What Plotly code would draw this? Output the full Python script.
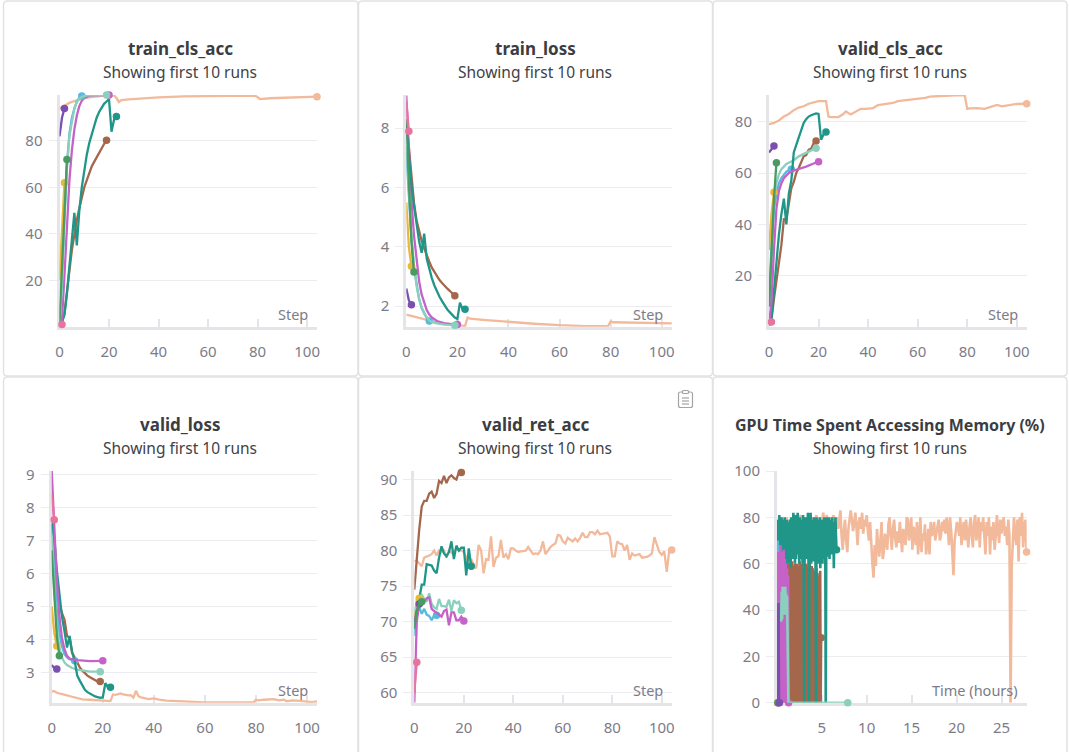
import plotly.graph_objects as go

W, H = 1069, 752
FONT = "Noto Sans"

# ---- colours of the runs
PEACH, PURPLE, GREEN, YELLOW = "#f2b99b", "#7b4fb0", "#4a9b62", "#e8b83c"
TEAL, BROWN, PINK, MAGENTA = "#1f9688", "#a5674c", "#e8749e", "#c562c8"
LTTEAL, CYAN = "#8ad0bd", "#56b9dd"

STEPS_2 = [0, 1]
STEPS_3 = [0, 1, 2]
STEPS_4 = [0, 1, 2, 3]
STEPS_10 = list(range(10))
STEPS_20 = list(range(20))
STEPS_21 = list(range(21))
STEPS_24 = list(range(24))
STEPS_105 = list(range(105))

# ---- train_cls_acc
tca_peach_x = [0, 2, 4, 6, 8, 10, 12, 15, 18, 22, 23, 24, 25, 28, 32, 40, 50, 60, 70, 79, 80, 81, 85, 95, 104]
tca_peach_y = [94, 95.3, 96.4, 97.2, 97.9, 98.4, 98.8, 99.2, 99.5, 99.7, 98.5, 96.8, 97.6, 97.9, 98.2, 98.8, 99.2, 99.4, 99.5, 99.5, 98.9, 98, 98.4, 98.8, 99.1]
tca_purple = [82, 90, 94]
tca_yellow = [20, 42, 62]
tca_green = [2, 25, 50, 72]
tca_pink = [0.5, 1]
tca_cyan = [1, 20, 48, 70, 83, 90, 94, 97, 98.7, 99.4]
tca_ltteal_x = [0, 1, 2, 3, 4, 5, 6, 7, 8, 9, 10, 12, 15, 19]
tca_ltteal_y = [1, 18, 46, 68, 82, 89, 94, 96.8, 98.3, 99, 99.4, 99.7, 99.8, 99.8]
tca_magenta_x = [0, 1, 2, 3, 4, 5, 6, 7, 8, 9, 10, 12, 15, 20]
tca_magenta_y = [0.3, 3, 22, 45, 63, 76, 85, 91, 95, 97.3, 98.5, 99.4, 99.7, 99.8]
tca_teal = [1, 2, 5, 14, 26, 38, 49, 35, 50, 60, 68, 74, 79, 83, 87, 90, 92.5, 94.5, 96, 97, 98, 84, 89, 90.5]
tca_brown = [0.5, 2, 6, 14, 24, 33, 40, 46, 51, 56, 60, 63, 66, 69, 71, 73, 75, 77, 78.7, 80.3]

# ---- train_loss
tl_peach_x = [0, 5, 10, 15, 20, 23, 24, 25, 30, 40, 50, 60, 70, 79, 80, 81, 90, 104]
tl_peach_y = [1.72, 1.6, 1.5, 1.42, 1.35, 1.33, 1.62, 1.58, 1.54, 1.47, 1.41, 1.36, 1.33, 1.33, 1.49, 1.46, 1.44, 1.42]
tl_purple = [2.6, 2.2, 2.05]
tl_yellow = [5.5, 4, 3.35]
tl_green = [8.2, 6, 4.2, 3.15]
tl_pink = [8.9, 7.9]
tl_cyan = [7.2, 5.6, 4.3, 3.3, 2.7, 2.25, 1.95, 1.75, 1.6, 1.5]
tl_ltteal_x = [0, 1, 2, 3, 4, 5, 6, 7, 8, 9, 10, 12, 15, 19]
tl_ltteal_y = [7.4, 5.8, 4.4, 3.4, 2.7, 2.25, 1.95, 1.75, 1.62, 1.52, 1.47, 1.42, 1.38, 1.36]
tl_magenta_x = [0, 1, 2, 3, 4, 5, 6, 7, 8, 9, 10, 12, 15, 20]
tl_magenta_y = [9.1, 7.2, 5.6, 4.4, 3.5, 2.85, 2.4, 2.1, 1.87, 1.72, 1.62, 1.5, 1.42, 1.38]
tl_teal = [8.1, 7.1, 6.1, 5.4, 4.7, 4.2, 3.8, 4.45, 3.6, 3.25, 2.95, 2.7, 2.5, 2.32, 2.17, 2.03, 1.9, 1.8, 1.7, 1.62, 1.57, 2.12, 1.9, 1.9]
tl_brown = [8.3, 7.3, 6.3, 5.5, 4.9, 4.5, 4.2, 3.95, 3.7, 3.5, 3.3, 3.15, 3.0, 2.88, 2.78, 2.68, 2.6, 2.52, 2.43, 2.35]

# ---- valid_cls_acc
vca_peach_x = [0, 2, 4, 6, 8, 10, 12, 14, 16, 18, 20, 23, 24, 25, 28, 30, 31, 33, 35, 37, 39, 42, 44, 46, 50, 52, 55, 60, 63, 65, 70, 75, 79, 80, 81, 84, 87, 90, 91, 92, 94, 97, 100, 104]
vca_peach_y = [79, 79.5, 80.5, 82, 83, 84.5, 85.5, 86, 87, 87.5, 88, 88, 82, 81.8, 81.8, 83, 84, 82.8, 84, 85, 85, 85.3, 86.5, 86.8, 87.3, 88, 88.3, 89, 89.3, 89.8, 90.1, 90.3, 90.3, 85, 85.2, 85.3, 85, 85.8, 86, 86.5, 86, 86.5, 86.9, 87]
vca_purple = [68, 69.5, 70.5]
vca_yellow = [30, 44, 52.5]
vca_green = [8, 30, 50, 64]
vca_pink = [0.5, 2]
vca_cyan = [8, 30, 46, 52, 56, 58, 59.5, 60.5, 61, 61.5]
vca_ltteal_x = [0, 1, 2, 3, 4, 5, 6, 7, 8, 9, 10, 12, 14, 16, 19]
vca_ltteal_y = [8, 33, 50, 56, 59.5, 61.5, 62.5, 63.5, 64, 64.5, 65, 66.5, 67.5, 68.5, 69.7]
vca_magenta_x = [0, 1, 2, 3, 4, 5, 6, 7, 8, 10, 12, 15, 18, 20]
vca_magenta_y = [1, 10, 30, 46, 53, 56, 58, 59, 60, 61, 61.5, 62.5, 63.7, 64.4]
vca_teal = [1, 3, 14, 26, 36, 44, 50, 40, 52, 57, 68, 71, 74, 77, 79.5, 81, 82, 82.5, 83, 83.2, 83, 73, 75, 76]
vca_brown = [0.5, 3, 11, 18, 27, 32, 42, 42, 48, 54, 56.5, 60, 62, 64.5, 66.5, 67, 69, 69.5, 71.5, 72.5]

# ---- valid_loss
vl_peach_x = [0, 1, 2, 4, 6, 8, 10, 12, 15, 18, 21, 23, 24, 25, 26, 27, 28, 30, 31, 32, 33, 34, 35, 37, 38, 40, 42, 45, 48, 50, 55, 60, 65, 70, 75, 79, 80, 81, 83, 85, 87, 89, 91, 92, 94, 96, 98, 100, 102, 104]
vl_peach_y = [2.42, 2.43, 2.38, 2.35, 2.3, 2.26, 2.22, 2.18, 2.17, 2.15, 2.13, 2.13, 2.33, 2.32, 2.34, 2.36, 2.33, 2.3, 2.31, 2.23, 2.44, 2.27, 2.24, 2.22, 2.19, 2.21, 2.17, 2.14, 2.13, 2.11, 2.1, 2.09, 2.09, 2.09, 2.09, 2.09, 2.17, 2.15, 2.17, 2.18, 2.19, 2.15, 2.17, 2.12, 2.15, 2.14, 2.12, 2.12, 2.1, 2.12]
vl_purple = [3.22, 3.13, 3.1]
vl_yellow = [5, 4.2, 3.8]
vl_green = [6.7, 5.2, 4.1, 3.5]
vl_pink = [8.4, 7.62]
vl_cyan = [7.5, 6, 4.9, 4.2, 3.8, 3.55, 3.45, 3.4, 3.37, 3.35]
vl_ltteal_x = [0, 1, 2, 3, 4, 5, 6, 7, 8, 10, 12, 15, 19]
vl_ltteal_y = [7.2, 5.5, 4.4, 3.75, 3.45, 3.3, 3.22, 3.17, 3.13, 3.08, 3.05, 3.02, 3.02]
vl_magenta_x = [0, 1, 2, 3, 4, 5, 6, 7, 8, 10, 12, 15, 20]
vl_magenta_y = [9.1, 7.3, 5.8, 4.7, 4.05, 3.7, 3.5, 3.42, 3.39, 3.37, 3.35, 3.34, 3.35]
vl_teal = [7.7, 7.1, 6.1, 5.3, 4.7, 4.25, 3.75, 4.1, 3.6, 3.35, 2.9, 2.75, 2.6, 2.47, 2.4, 2.35, 2.3, 2.27, 2.25, 2.23, 2.24, 2.67, 2.55, 2.55]
vl_brown = [7.5, 6.6, 5.8, 5.1, 4.8, 4.6, 4.1, 4.05, 3.6, 3.45, 3.3, 3.15, 3.05, 2.97, 2.9, 2.85, 2.8, 2.76, 2.72, 2.72]

# ---- valid_ret_acc
vra_peach = [78.5, 78.6, 78.2, 77.8, 79, 79.1, 79.3, 79.5, 80, 79.3, 80, 79.8, 80, 79, 80, 79.7, 79.5, 80.5, 80, 80, 79.8, 79, 78.2, 78.8, 78, 77.5, 80.8, 80, 76.8, 78.8, 78.7, 82, 77.7, 79, 79.2, 81.5, 79, 79.5, 78.8, 80.3, 80.3, 80, 79.8, 79.9, 80, 80, 80.5, 79.9, 79.5, 79.6, 79.5, 80, 81.3, 79.5, 80, 80.5, 80.8, 81, 82.2, 82.1, 81.3, 81, 81.8, 81.5, 81.3, 81.7, 81.3, 81.8, 82.5, 81.9, 81.9, 82.6, 82.6, 82.3, 82.8, 82.3, 82.4, 82.4, 82.5, 82, 79.2, 79.2, 81.3, 81, 80.9, 80, 80.8, 78.7, 79.6, 79.3, 79.4, 79.5, 79, 79, 79.1, 79.3, 79.6, 81.9, 80.7, 79.8, 79.4, 79.9, 77, 80, 80.1]
vra_purple = [70, 71.5, 72.5]
vra_yellow = [70.5, 72, 73.3]
vra_green = [69, 71.5, 72.5, 72.8]
vra_pink = [60, 64.3]
vra_cyan = [68, 71, 72, 71.1, 71.8, 71, 70.8, 70.2, 70.9, 70.9]
vra_ltteal = [71, 73, 73.2, 73.8, 73.2, 72.8, 74, 72.5, 72, 71.8, 73.2, 72.2, 72.2, 72.1, 73.1, 71.5, 73, 72.6, 72.8, 71.6]
vra_magenta = [58.6, 70, 72.5, 73, 72.8, 73.3, 73.4, 71.8, 71.5, 71.3, 71, 70.7, 71.5, 71.7, 69.5, 71.3, 71.3, 70.2, 70.2, 70.7, 70.1]
vra_teal = [69, 72, 73.2, 75.2, 75.2, 78.1, 78, 77.9, 77.2, 76.8, 79, 80.6, 79.6, 79.2, 79.8, 81.3, 78.8, 80.7, 80, 80.4, 80.4, 76.5, 80.3, 77.8]
vra_brown = [74.5, 79, 83, 86.2, 87, 87, 88, 88.3, 87.4, 88, 89.8, 89.5, 90.5, 89.5, 90.3, 90.6, 90.2, 90, 91, 91]

# ---- GPU Time Spent Accessing Memory (%)
gpu_peach_start, gpu_peach_dt = 0.1, 0.127
gpu_peach = [
    76, 79, 74, 78, 80, 75, 79, 77, 80, 74, 78, 79, 75, 80, 73, 78, 80, 76, 79, 74, 81, 77, 79, 75, 80, 78, 74, 81, 76, 79,
    77, 80, 75, 79, 81, 74, 78, 80, 76, 79, 82, 75, 77, 81, 78, 74, 80, 76, 79, 81, 73, 78, 80, 75, 79, 83, 72, 66,
    74, 79, 70, 65, 75, 80, 83, 79, 74, 77, 82, 76, 68, 78, 80, 75, 82, 73, 79, 76, 81, 74, 70, 78, 66, 60, 54, 68,
    59, 75, 68, 63, 70, 78, 62, 65, 73, 70, 66, 77, 80, 72, 66, 75, 79, 71, 67, 74, 69, 78, 72, 65, 75, 72, 68, 80,
    79, 70, 74, 80, 66, 76, 73, 68, 78, 64, 72, 80, 65, 73, 70, 77, 64, 68, 75, 64, 78, 72, 74, 78, 70, 73, 76, 79,
    70, 72, 78, 74, 79, 73, 80, 76, 68, 80, 74, 66, 55, 70, 75, 78, 76, 72, 80, 68, 74, 78, 70, 79, 73, 67, 76, 80,
    72, 67, 78, 81, 70, 75, 80, 67, 78, 74, 80, 72, 64, 78, 72, 80, 64, 76, 70, 78, 66, 72, 81, 75, 69, 79, 73, 77,
    80, 72, 76, 68, 79, 72, 0, 59, 74, 80, 72, 68, 79, 61, 80, 72, 82, 67, 76, 79, 65,
]
gpu_teal_start, gpu_teal_dt = 0.05, 0.06
gpu_teal = [
    77, 62, 79, 72, 81, 64, 78, 70, 80, 62, 79, 60, 76, 66, 80, 63, 75, 55, 79, 65, 78, 60, 74, 62, 79, 58, 80, 66, 77, 62,
    82, 68, 76, 60, 81, 62, 78, 66, 82, 64, 75, 60, 80, 67, 79, 62, 77, 60, 81, 66, 0, 78, 63, 80, 62, 79, 66, 82, 62, 0,
    80, 64, 82, 60, 79, 66, 77, 61, 80, 68, 78, 62, 0, 80, 63, 78, 60, 79, 66, 80, 58, 76, 64, 79, 60, 78, 68, 80, 62, 78,
    0, 70, 80, 63, 78, 66, 80, 62, 77, 68, 79, 64, 80, 70, 78, 58, 76, 68, 80, 72, 66,
]
gpu_brown_start, gpu_brown_dt = 0.1, 0.052
gpu_brown = [
    0, 55, 0, 58, 0, 57, 0, 60, 0, 56, 0, 59, 0, 57, 0, 60, 0, 58, 0, 55, 0, 59, 0, 60, 0, 56, 0, 60, 0, 58, 0, 61, 0, 57, 0, 59, 0, 60, 0,
    56, 0, 60, 0, 58, 0, 59, 0, 61, 0, 57, 0, 60, 0, 58, 0, 61, 0, 55, 0, 59, 0, 60, 0, 57, 0, 59, 0, 58, 0, 60, 0, 56, 0, 59, 0, 58, 0, 55,
    0, 57, 0, 54, 0, 58, 0, 56, 0, 52, 0, 55, 0, 57, 0, 28,
]
gpu_magenta_start, gpu_magenta_dt = 0.12, 0.06
gpu_magenta = [0, 65, 0, 64, 0, 68, 0, 65, 0, 64, 0, 66, 0, 62, 0, 60, 0, 58, 0, 55, 0]
gpu_ltteal_x = [0.5, 0.55, 0.6, 0.65, 0.7, 0.75, 0.8, 0.85, 0.9, 0.95, 1.0, 1.05, 1.1, 1.15, 1.3, 7.9]
gpu_ltteal_y = [35, 48, 36, 50, 40, 50, 42, 49, 38, 50, 42, 47, 40, 46, 0, 0]
gpu_purple_x = [0.05, 0.1, 0.15, 0.2, 0.25, 0.3]
gpu_purple_y = [0, 43, 0, 43, 0, 0]
gpu_pink_x = [0.08, 0.12, 0.16]
gpu_pink_y = [60, 0, 0]
gpu_yellow_x = [0.1, 0.12]
gpu_yellow_y = [64, 0]
gpu_cyan_x = [0.1, 0.2, 0.3, 0.4, 0.5]
gpu_cyan_y = [70, 0, 68, 0, 5]
gpu_green_x = [0.08, 0.12]
gpu_green_y = [60, 0]

x_ticks_step = [0, 20, 40, 60, 80, 100]
x_ticks_time = [5, 10, 15, 20, 25]

titles = ["train_cls_acc", "train_loss", "valid_cls_acc", "valid_loss", "valid_ret_acc",
          "GPU Time Spent Accessing Memory (%)"]
title_sizes = [17, 17, 17, 17, 17, 16]
subtitle = "Showing first 10 runs"
x_names = ["Step", "Step", "Step", "Step", "Step", "Time (hours)"]


def px(x):
    return x / W


def py(y):
    return 1 - y / H


def grid(start, dt, values):
    return [round(start + i * dt, 3) for i in range(len(values))]


PANELS = [
    dict(l=59.5, r=317, t=95, b=326.7, xr=[0, 104], yr=[0, 99.8], yt=[20, 40, 60, 80], xt=x_ticks_step, cx=180.3, oy=0, nx=293.3, lw=2.3),
    dict(l=406.3, r=671.7, t=95, b=326.7, xr=[0, 103.9], yr=[1.31, 9.12], yt=[2, 4, 6, 8], xt=x_ticks_step, cx=535, oy=0, nx=648, lw=2.3),
    dict(l=769, r=1026.7, t=95, b=326.7, xr=[0, 104], yr=[0.13, 90.4], yt=[20, 40, 60, 80], xt=x_ticks_step, cx=890, oy=0, nx=1003, lw=2.3),
    dict(l=51.7, r=317, t=471, b=702.7, xr=[0, 103.9], yr=[2.08, 9.1], yt=[3, 4, 5, 6, 7, 8, 9], xt=x_ticks_step, cx=180.3, oy=376, nx=293.3, lw=2.3),
    dict(l=414.3, r=671.7, t=471, b=702.7, xr=[0, 104], yr=[58.6, 91.2], yt=[60, 65, 70, 75, 80, 85, 90], xt=x_ticks_step, cx=535, oy=376, nx=648, lw=2.3),
    dict(l=777, r=1026.7, t=471, b=702.7, xr=[0.03, 27.8], yr=[0, 100], yt=[0, 20, 40, 60, 80, 100], xt=x_ticks_time, cx=890, oy=376, nx=975, lw=2.6),
]

SERIES = [
    [(tca_peach_x, tca_peach_y, PEACH), (STEPS_20, tca_brown, BROWN), (STEPS_24, tca_teal, TEAL), (tca_magenta_x, tca_magenta_y, MAGENTA),
     (STEPS_10, tca_cyan, CYAN), (tca_ltteal_x, tca_ltteal_y, LTTEAL), (STEPS_3, tca_yellow, YELLOW), (STEPS_4, tca_green, GREEN),
     (STEPS_2, tca_pink, PINK), (STEPS_3, tca_purple, PURPLE)],
    [(tl_peach_x, tl_peach_y, PEACH), (STEPS_20, tl_brown, BROWN), (STEPS_10, tl_cyan, CYAN), (tl_magenta_x, tl_magenta_y, MAGENTA),
     (tl_ltteal_x, tl_ltteal_y, LTTEAL), (STEPS_24, tl_teal, TEAL), (STEPS_3, tl_yellow, YELLOW), (STEPS_4, tl_green, GREEN),
     (STEPS_2, tl_pink, PINK), (STEPS_3, tl_purple, PURPLE)],
    [(vca_peach_x, vca_peach_y, PEACH), (STEPS_20, vca_brown, BROWN), (vca_ltteal_x, vca_ltteal_y, LTTEAL), (STEPS_10, vca_cyan, CYAN),
     (STEPS_24, vca_teal, TEAL), (vca_magenta_x, vca_magenta_y, MAGENTA), (STEPS_3, vca_yellow, YELLOW), (STEPS_4, vca_green, GREEN),
     (STEPS_2, vca_pink, PINK), (STEPS_3, vca_purple, PURPLE)],
    [(vl_peach_x, vl_peach_y, PEACH), (STEPS_20, vl_brown, BROWN), (STEPS_10, vl_cyan, CYAN), (vl_ltteal_x, vl_ltteal_y, LTTEAL),
     (STEPS_24, vl_teal, TEAL), (vl_magenta_x, vl_magenta_y, MAGENTA), (STEPS_3, vl_yellow, YELLOW), (STEPS_4, vl_green, GREEN),
     (STEPS_2, vl_pink, PINK), (STEPS_3, vl_purple, PURPLE)],
    [(STEPS_105, vra_peach, PEACH), (STEPS_20, vra_brown, BROWN), (STEPS_24, vra_teal, TEAL), (STEPS_20, vra_ltteal, LTTEAL),
     (STEPS_10, vra_cyan, CYAN), (STEPS_21, vra_magenta, MAGENTA), (STEPS_3, vra_yellow, YELLOW), (STEPS_3, vra_purple, PURPLE),
     (STEPS_4, vra_green, GREEN), (STEPS_2, vra_pink, PINK)],
    [(grid(gpu_peach_start, gpu_peach_dt, gpu_peach), gpu_peach, PEACH),
     (grid(gpu_brown_start, gpu_brown_dt, gpu_brown), gpu_brown, BROWN),
     (grid(gpu_teal_start, gpu_teal_dt, gpu_teal), gpu_teal, TEAL),
     (gpu_pink_x, gpu_pink_y, PINK), (gpu_yellow_x, gpu_yellow_y, YELLOW), (gpu_green_x, gpu_green_y, GREEN), (gpu_cyan_x, gpu_cyan_y, CYAN),
     (grid(gpu_magenta_start, gpu_magenta_dt, gpu_magenta), gpu_magenta, MAGENTA),
     (gpu_ltteal_x, gpu_ltteal_y, LTTEAL), (gpu_purple_x, gpu_purple_y, PURPLE)],
]

BORDERS = [(3.5, 358, 1, 376), (358.5, 712.5, 1, 376), (713, 1067, 1, 376),
           (3.5, 358, 377, 760), (358.5, 712.5, 377, 760), (713, 1067, 377, 760)]

GRID = "#ececf0"
AXIS = "#e5e5e9"
TICKFONT = dict(family=FONT, size=15, color="#7c7c87")

fig = go.Figure()
layout = dict(width=W, height=H, margin=dict(l=0, r=0, t=0, b=0, pad=0, autoexpand=False),
              paper_bgcolor="white", plot_bgcolor="white",
              showlegend=False, shapes=[], annotations=[], font=dict(family=FONT))


def rounded(x0, x1, y0, y1, r=4):
    a, b, c, d = px(x0), px(x1), py(y0), py(y1)
    rx, ry = r / W, r / H
    return (f"M {a + rx} {c} L {b - rx} {c} Q {b} {c} {b} {c - ry} L {b} {d + ry} Q {b} {d} {b - rx} {d} "
            f"L {a + rx} {d} Q {a} {d} {a} {d + ry} L {a} {c - ry} Q {a} {c} {a + rx} {c} Z")


for x0, x1, y0, y1 in BORDERS:
    layout["shapes"].append(dict(type="path", xref="paper", yref="paper", path=rounded(x0, x1, y0, y1),
                                 line=dict(color="#e2e2e4", width=1.5), layer="below"))

for i, (p, runs, title, size, name) in enumerate(zip(PANELS, SERIES, titles, title_sizes, x_names), start=1):
    xa, ya = f"xaxis{i}", f"yaxis{i}"
    layout[xa] = dict(domain=[px(p["l"]), px(p["r"])], range=p["xr"], anchor=f"y{i}", tickvals=p["xt"],
                      ticks="inside", ticklen=8, tickwidth=2, tickcolor=AXIS, showgrid=False, zeroline=False,
                      showline=True, linecolor=AXIS, linewidth=3, tickfont=TICKFONT, ticklabelstandoff=9, layer="below traces")
    layout[ya] = dict(domain=[py(p["b"]), py(p["t"])], range=p["yr"], anchor=f"x{i}", tickvals=p["yt"],
                      ticks="outside", ticklen=8, tickwidth=1, tickcolor=GRID, showgrid=True, gridcolor=GRID, gridwidth=1,
                      zeroline=False, showline=True, linecolor=AXIS, linewidth=3, tickfont=TICKFONT, ticklabelstandoff=3,
                      layer="below traces")
    for xs, ys, col in runs:
        fig.add_trace(go.Scatter(x=xs, y=ys, mode="lines", line=dict(color=col, width=p["lw"]), cliponaxis=False,
                                 hoverinfo="skip", xaxis=f"x{i}", yaxis=f"y{i}"))
        fig.add_trace(go.Scatter(x=xs[-1:], y=ys[-1:], mode="markers", marker=dict(color=col, size=7.5), cliponaxis=False,
                                 hoverinfo="skip", xaxis=f"x{i}", yaxis=f"y{i}"))
    layout["annotations"] += [
        dict(text=f"<b>{title}</b>", xref="paper", yref="paper", x=px(p["cx"]), y=py(p["oy"] + 48.6), showarrow=False,
             xanchor="center", yanchor="middle", font=dict(family=FONT, size=size, color="#3a3d42")),
        dict(text=subtitle, xref="paper", yref="paper", x=px(p["cx"]), y=py(p["oy"] + 72.3), showarrow=False,
             xanchor="center", yanchor="middle", font=dict(family=FONT, size=15.5, color="#3f4247")),
        dict(text=name, xref="paper", yref="paper", x=px(p["nx"]), y=py(p["oy"] + 314), showarrow=False,
             xanchor="center", yanchor="middle", font=dict(family=FONT, size=14.5, color="#7c7c87")),
    ]

# clipboard icon in the valid_ret_acc panel
ICON = "#a2a4a8"
layout["shapes"] += [
    dict(type="path", xref="paper", yref="paper", path=rounded(678.5, 692.5, 392, 407.5, 2), line=dict(color=ICON, width=1.2)),
    dict(type="path", xref="paper", yref="paper", path=rounded(682.5, 688.5, 390.5, 393.5, 1), fillcolor="white", line=dict(color=ICON, width=1.2)),
]
for yy in (398, 401, 404):
    layout["shapes"].append(dict(type="line", xref="paper", yref="paper", x0=px(682), x1=px(689), y0=py(yy), y1=py(yy),
                                 line=dict(color=ICON, width=1.2)))

fig.update_layout(**layout)
fig.write_html("out.html", config={"displayModeBar": False},
               post_script="document.body.style.margin='0';document.body.style.overflow='hidden';")
